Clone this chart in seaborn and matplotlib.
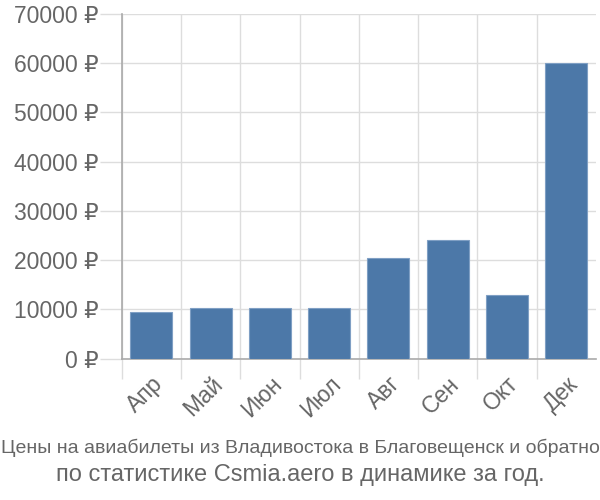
import matplotlib
matplotlib.use("Agg")
import matplotlib.pyplot as plt
import seaborn as sns
import pandas as pd
import numpy as np

months = ["Апр", "Май", "Июн", "Июл", "Авг", "Сен", "Окт", "Дек"]
prices = [9500, 10200, 10200, 10200, 20400, 24100, 12900, 60000]
yticks = [0, 10000, 20000, 30000, 40000, 50000, 60000, 70000]
title1 = "Цены на авиабилеты из Владивостока в Благовещенск и обратно"
title2 = "по статистике Csmia.aero в динамике за год."

sns.set_theme(style="white")
plt.rcParams['font.family'] = ['Liberation Sans', 'DejaVu Sans']

df = pd.DataFrame({"month": months, "price": prices})

fig = plt.figure(figsize=(6, 5), dpi=100)
ax = fig.add_axes([0.203, 0.283, 0.790, 0.689])

sns.barplot(data=df, x="month", y="price", ax=ax, color="#4c78a8",
            saturation=1, width=0.71, edgecolor="#7f9fc4", linewidth=0.8, zorder=3)

ax.set_ylim(0, 70000)
ax.set_xlim(-0.5, len(months) - 0.5)
ax.set_yticks(yticks)
ax.set_yticklabels([f"{v} ₽" for v in yticks])
ax.set_xlabel("")
ax.set_ylabel("")

ax.set_xticks(np.arange(len(months)))
ax.set_xticklabels(months, rotation=45, ha="right", va="top", rotation_mode="anchor")
ax.set_xticks(np.arange(len(months)) - 0.5, minor=True)

ax.tick_params(axis="y", which="major", length=16, width=1, color="#dddddd",
               labelsize=16.5, labelcolor="#666666", pad=1, left=True)
ax.tick_params(axis="x", which="major", length=0, labelsize=16.5, labelcolor="#666666", pad=10)
ax.tick_params(axis="x", which="minor", length=14.5, width=1, color="#dddddd", bottom=True)

ax.grid(True, axis="y", which="major", color="#dddddd", linewidth=1, zorder=0)
ax.grid(True, axis="x", which="minor", color="#dddddd", linewidth=1, zorder=0)
ax.grid(False, axis="x", which="major")
ax.set_axisbelow(True)

for s in ["top", "right"]:
    ax.spines[s].set_visible(False)
ax.spines["left"].set_color("#aaaaaa")
ax.spines["bottom"].set_color("#aaaaaa")
ax.spines["left"].set_linewidth(1.2)
ax.spines["bottom"].set_linewidth(1.2)

fig.text(0.5, 0.105, title1, ha="center", va="center", fontsize=14,
         color="#666666")
fig.text(0.5, 0.05, title2, ha="center", va="center", fontsize=17, color="#666666")

fig.savefig("out.png", dpi=100)
